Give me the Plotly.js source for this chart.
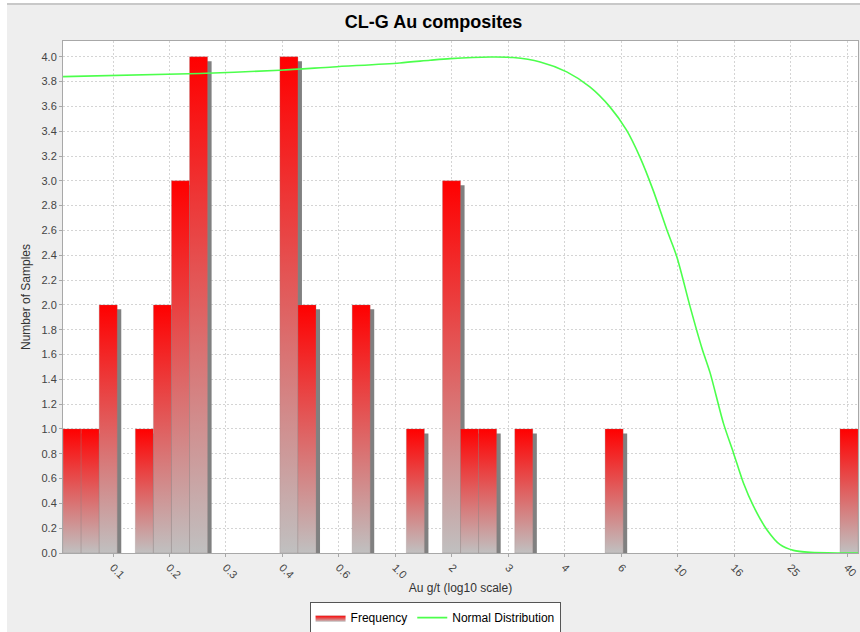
<!DOCTYPE html>
<html><head><meta charset="utf-8">
<script src="https://cdn.plot.ly/plotly-3.0.1.min.js"></script>
<style>
html,body{margin:0;padding:0;background:#fff;width:860px;height:632px;overflow:hidden;}
#topline{position:absolute;left:7px;top:3px;width:853px;height:2px;background:#c8c8c8;}
#chart{position:absolute;left:7px;top:5px;width:853px;height:627px;}
</style></head><body>
<div id="topline"></div><div id="chart"></div>
<script>
// ---- data ----
const chartTitle = 'CL-G Au composites';
const xTitle = 'Au g/t (log10 scale)';
const yTitle = 'Number of Samples';
const xTickLog = [-1, -0.8, -0.6, -0.4, -0.2, 0, 0.2, 0.4, 0.6, 0.8, 1.0, 1.2, 1.4, 1.6];
const xTickText = ['0.1','0.2','0.3','0.4','0.6','1.0','2','3','4','6','10','16','25','40'];
const binStartLog = -1.177;
const binWidthLog = 0.0640;
const binCounts = [1,1,2,0,1,2,3,4,0,0,0,0,4,2,0,0,2,0,0,1,0,3,1,1,0,1,0,0,0,0,1,0,0,0,0,0,0,0,0,0,0,0,0,1];
const normLog = [-1.177,-0.693,-0.409,-0.221,0.016,0.123,0.194,0.336,0.417,0.513,0.607,0.689,0.760,0.819,0.866,0.913,0.962,0.997,1.044,1.086,1.115,1.162,1.198,1.233,1.269,1.316,1.363,1.410,1.470,1.576,1.639];
const normY = [3.84,3.865,3.891,3.918,3.950,3.972,3.985,3.998,3.994,3.958,3.878,3.757,3.596,3.408,3.193,2.925,2.603,2.388,1.986,1.651,1.452,1.047,0.805,0.564,0.375,0.188,0.067,0.021,0.005,0.0,0.0];

// ---- styles ----
const xRange = [-1.1772, 1.6388];
const yRange = [0, 4.127];
const shadowDx = 0.0142;   // ~4 px
const shadowDy = 0.036;    // ~4.5 px
const fontFam = '"Liberation Sans", Arial, sans-serif';

const shadows = [], bars = [];
let first = true;
binCounts.forEach((h, i) => {
  if (!h) return;
  const x0 = binStartLog + i * binWidthLog, x1 = x0 + binWidthLog;
  shadows.push({
    type: 'scatter', mode: 'lines', fill: 'toself', fillcolor: '#808080',
    x: [x0 + shadowDx, x1 + shadowDx, x1 + shadowDx, x0 + shadowDx, x0 + shadowDx],
    y: [0, 0, h - shadowDy, h - shadowDy, 0],
    line: {width: 0}, hoverinfo: 'skip', showlegend: false
  });
  bars.push({
    type: 'scatter', mode: 'lines', fill: 'toself',
    x: [x0, x1, x1, x0, x0], y: [0, 0, h, h, 0],
    fillgradient: {type: 'vertical', colorscale: [[0, '#c0c0c0'], [1, '#ff0000']]},
    line: {width: 0.6, color: 'rgba(150,130,130,0.45)'},
    name: 'Frequency', legendgroup: 'freq', showlegend: first,
    hovertemplate: 'count %{y}<extra></extra>'
  });
  first = false;
});

const normal = {
  type: 'scatter', mode: 'lines', x: normLog, y: normY,
  line: {color: '#4cff4c', width: 1.6, shape: 'spline', smoothing: 0.8},
  name: 'Normal Distribution'
};

const layout = {
  width: 853, height: 627,
  paper_bgcolor: '#eeeeee', plot_bgcolor: '#ffffff',
  margin: {l: 56, r: 2, t: 36, b: 79, autoexpand: false},
  font: {family: fontFam, size: 11, color: '#444'},
  title: {text: chartTitle, font: {family: fontFam, size: 18, weight: 'bold', color: '#000'},
          x: 0.5, xref: 'container', y: 0.9737, yref: 'container', yanchor: 'middle'},
  xaxis: {range: xRange, tickvals: xTickLog, ticktext: xTickText, tickangle: 45,
          showgrid: true, gridcolor: '#d4d4d4', griddash: '2px,2px', zeroline: false,
          showline: true, linecolor: '#a8a8a8', mirror: true,
          ticks: 'outside', ticklen: 3, tickcolor: '#a8a8a8',
          tickfont: {size: 11, color: '#444'},
          title: {text: xTitle, font: {size: 12, color: '#333'}, standoff: 2}},
  yaxis: {range: yRange, tick0: 0, dtick: 0.2, tickformat: '.1f',
          showgrid: true, gridcolor: '#d4d4d4', griddash: '2px,2px', zeroline: false,
          showline: true, linecolor: '#a8a8a8', mirror: true,
          ticks: 'outside', ticklen: 3, tickcolor: '#a8a8a8',
          tickfont: {size: 11, color: '#444'},
          title: {text: yTitle, font: {size: 12, color: '#333'}, standoff: 8}},
  showlegend: true,
  legend: {orientation: 'h', x: 0.468, xanchor: 'center',
           y: -0.096, yanchor: 'top', bgcolor: '#ffffff', bordercolor: '#555555', borderwidth: 1,
           font: {size: 12, color: '#000'}, traceorder: 'normal', itemwidth: 30,
           entrywidth: 0, tracegroupgap: 0}
};

Plotly.newPlot('chart', shadows.concat(bars, [normal]), layout, {displayModeBar: false, staticPlot: true});
</script></body></html>
